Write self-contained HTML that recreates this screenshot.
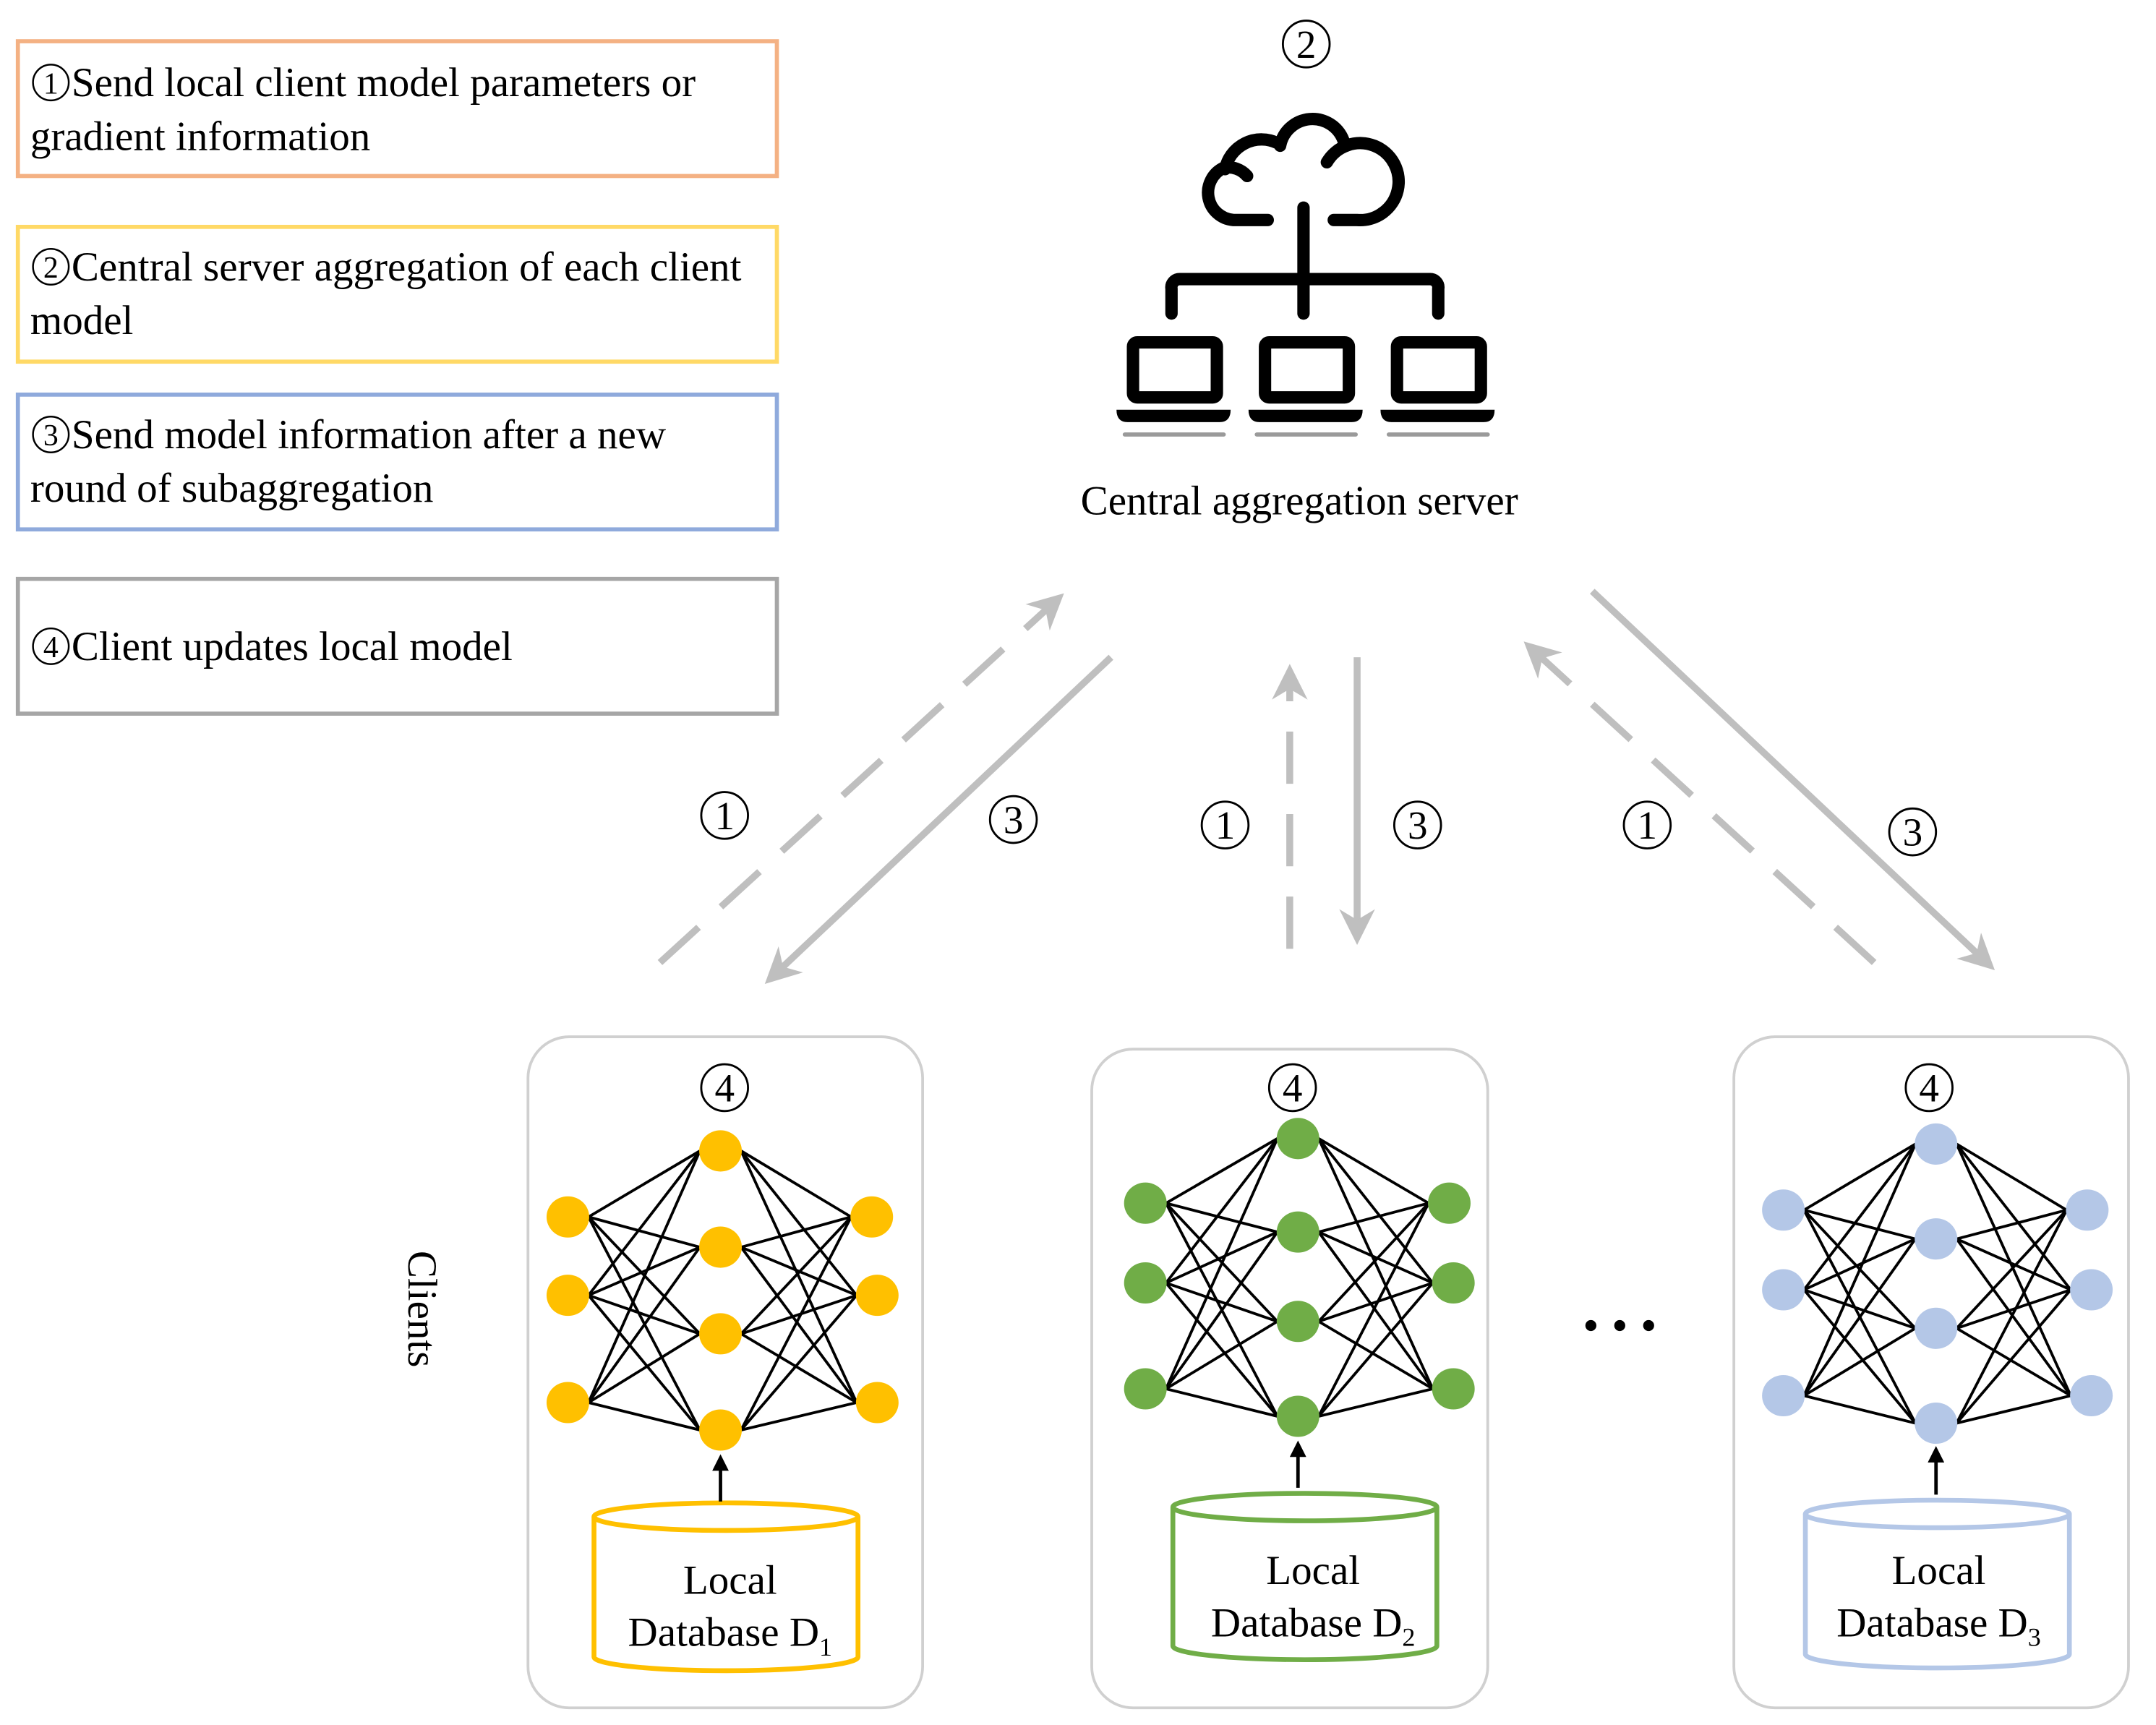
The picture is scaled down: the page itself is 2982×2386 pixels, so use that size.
<!DOCTYPE html>
<html><head><meta charset="utf-8"><style>
html,body{margin:0;padding:0;background:#fff;}
svg{display:block;}
text{font-family:"Liberation Serif",serif;fill:#000;}
</style></head><body>
<svg id="s" width="2982" height="2386" viewBox="0 0 1568 1254.5" preserveAspectRatio="none" xmlns="http://www.w3.org/2000/svg">
<defs>
<marker id="ag" viewBox="0 0 10 10" refX="8" refY="5" markerWidth="26" markerHeight="26" orient="auto" markerUnits="userSpaceOnUse"><path d="M0,0 L10,5 L0,10 L3,5 z" fill="#bfbfbf"/></marker>
<marker id="ab" viewBox="0 0 10 10" refX="8" refY="5" markerWidth="12" markerHeight="12" orient="auto" markerUnits="userSpaceOnUse"><path d="M0,0 L10,5 L0,10 z" fill="#000"/></marker>
</defs>
<!-- legend -->
<rect x="13" y="30" width="552" height="98" fill="none" stroke="#f4b183" stroke-width="3"/>
<circle cx="37" cy="60" r="13" fill="none" stroke="#000" stroke-width="1.3"/><text x="37" y="68" font-size="22" text-anchor="middle">1</text>
<text x="52" y="70" font-size="30">Send local client model parameters or</text>
<text x="22" y="109" font-size="30">gradient information</text>
<rect x="13" y="165" width="552" height="98" fill="none" stroke="#ffd966" stroke-width="3"/>
<circle cx="37" cy="194" r="13" fill="none" stroke="#000" stroke-width="1.3"/><text x="37" y="202" font-size="22" text-anchor="middle">2</text>
<text x="52" y="204" font-size="30">Central server aggregation of each client</text>
<text x="22" y="243" font-size="30">model</text>
<rect x="13" y="287" width="552" height="98" fill="none" stroke="#8faadc" stroke-width="3"/>
<circle cx="37" cy="316" r="13" fill="none" stroke="#000" stroke-width="1.3"/><text x="37" y="324" font-size="22" text-anchor="middle">3</text>
<text x="52" y="326" font-size="30">Send model information after a new</text>
<text x="22" y="365" font-size="30">round of subaggregation</text>
<rect x="13" y="421" width="552" height="98" fill="none" stroke="#a6a6a6" stroke-width="3"/>
<circle cx="37" cy="470" r="13" fill="none" stroke="#000" stroke-width="1.3"/><text x="37" y="478" font-size="22" text-anchor="middle">4</text>
<text x="52" y="480" font-size="30">Client updates local model</text>

<!-- server -->
<g id="circ"></g>
<g fill="none" stroke="#000" stroke-width="9" stroke-linecap="round" stroke-linejoin="round">
<path d="M922,160 H897 A20,20 0 0 1 890,122 A18,18 0 0 1 907,128"/>
<path d="M891,123 A27,27 0 0 1 929,104"/>
<path d="M931,106 A24,24 0 0 1 977,102"/>
<path d="M965,118 A28,28 0 1 1 987,160 H970"/>
<path d="M948,151 V228"/>
<path d="M852,228 V210 A6,6 0 0 1 858,203 H1040 A6,6 0 0 1 1046,210 V228"/>
<rect x="824" y="249" width="61" height="40" rx="3"/>
<rect x="920" y="249" width="61" height="40" rx="3"/>
<rect x="1016" y="249" width="61" height="40" rx="3"/>
</g>
<g fill="#000">
<path d="M812,298 H895 Q895,307 887,307 H820 Q812,307 812,298 z"/>
<path d="M908,298 H991 Q991,307 983,307 H916 Q908,307 908,298 z"/>
<path d="M1004,298 H1087 Q1087,307 1079,307 H1012 Q1004,307 1004,298 z"/>
</g>
<g stroke="#9a9a9a" stroke-width="3" stroke-linecap="round">
<line x1="818" y1="316" x2="890" y2="316"/><line x1="914" y1="316" x2="986" y2="316"/><line x1="1010" y1="316" x2="1082" y2="316"/>
</g>
<text x="945" y="374" font-size="30" text-anchor="middle">Central aggregation server</text>

<!-- arrows -->
<g stroke="#bfbfbf" stroke-width="5" fill="none">
<line x1="480" y1="700" x2="770" y2="435" stroke-dasharray="38,22" marker-end="url(#ag)"/>
<line x1="808" y1="478" x2="560" y2="712" marker-end="url(#ag)"/>
<line x1="938" y1="690" x2="938" y2="488" stroke-dasharray="38,22" marker-end="url(#ag)"/>
<line x1="987" y1="478" x2="987" y2="682" marker-end="url(#ag)"/>
<line x1="1363" y1="700" x2="1112" y2="470" stroke-dasharray="38,22" marker-end="url(#ag)"/>
<line x1="1158" y1="430" x2="1447" y2="702" marker-end="url(#ag)"/>
</g>

<!-- client boxes -->
<g fill="none" stroke="#d0d0d0" stroke-width="2">
<rect x="384" y="754" width="287" height="488" rx="30"/>
<rect x="794" y="763" width="288" height="479" rx="30"/>
<rect x="1261" y="754" width="287" height="488" rx="30"/>
</g>
<g id="nets"></g>

<!-- cylinders -->
<g fill="#fff" stroke-width="3.5">
<path d="M432,1103 V1205 A96,10 0 0 0 624,1205 V1103" stroke="#ffc000"/>
<ellipse cx="528" cy="1103" rx="96" ry="10" stroke="#ffc000"/>
<path d="M853,1096 V1197 A96,10 0 0 0 1045,1197 V1096" stroke="#70ad47"/>
<ellipse cx="949" cy="1096" rx="96" ry="10" stroke="#70ad47"/>
<path d="M1313,1101 V1203 A96,10 0 0 0 1505,1203 V1101" stroke="#b4c7e7"/>
<ellipse cx="1409" cy="1101" rx="96" ry="10" stroke="#b4c7e7"/>
</g>
<g font-size="30" text-anchor="middle">
<text x="531" y="1159">Local</text><text x="531" y="1197">Database D<tspan font-size="19" dy="7">1</tspan></text>
<text x="955" y="1152">Local</text><text x="955" y="1190">Database D<tspan font-size="19" dy="7">2</tspan></text>
<text x="1410" y="1152">Local</text><text x="1410" y="1190">Database D<tspan font-size="19" dy="7">3</tspan></text>
</g>
<g stroke="#000" stroke-width="2.5">
<line x1="524" y1="1092" x2="524" y2="1060" marker-end="url(#ab)"/>
<line x1="944" y1="1082" x2="944" y2="1050" marker-end="url(#ab)"/>
<line x1="1408" y1="1087" x2="1408" y2="1054" marker-end="url(#ab)"/>
</g>
<g fill="#000"><circle cx="1157" cy="964" r="4"/><circle cx="1178" cy="964" r="4"/><circle cx="1199" cy="964" r="4"/></g>
<text x="0" y="0" font-size="30" text-anchor="middle" transform="translate(297,952) rotate(90)">Clients</text>
</svg>
<script>
var c=[[950,32,"2"],[527,593,"1"],[737,596,"3"],[891,600,"1"],[1031,600,"3"],[1198,600,"1"],[1391,605,"3"],[527,791,"4"],[940,791,"4"],[1403,791,"4"]];
var hc="";
c.forEach(function(p){hc+='<circle cx="'+p[0]+'" cy="'+p[1]+'" r="17" fill="none" stroke="#000" stroke-width="1.5"/><text x="'+p[0]+'" y="'+(p[1]+10)+'" font-size="29" text-anchor="middle">'+p[2]+'</text>';});
document.getElementById("circ").innerHTML=hc;
var nets=[
 {c:"#ffc000",L:[[413,885],[413,942],[413,1020]],M:[[524,837],[524,907],[524,970],[524,1040]],R:[[634,885],[638,942],[638,1020]]},
 {c:"#70ad47",L:[[833,875],[833,933],[833,1010]],M:[[944,828],[944,896],[944,961],[944,1030]],R:[[1054,875],[1057,933],[1057,1010]]},
 {c:"#b4c7e7",L:[[1297,880],[1297,938],[1297,1015]],M:[[1408,832],[1408,901],[1408,966],[1408,1035]],R:[[1518,880],[1521,938],[1521,1015]]}
];
var g=document.getElementById("nets"),h="";
nets.forEach(function(n){
 n.L.forEach(function(a){n.M.forEach(function(b){h+='<line x1="'+(a[0]+15)+'" y1="'+a[1]+'" x2="'+(b[0]-15)+'" y2="'+b[1]+'" stroke="#000" stroke-width="2"/>';});});
 n.R.forEach(function(a){n.M.forEach(function(b){h+='<line x1="'+(a[0]-15)+'" y1="'+a[1]+'" x2="'+(b[0]+15)+'" y2="'+b[1]+'" stroke="#000" stroke-width="2"/>';});});
 n.L.concat(n.M,n.R).forEach(function(p){h+='<ellipse cx="'+p[0]+'" cy="'+p[1]+'" rx="15.5" ry="15" fill="'+n.c+'"/>';});
});
g.innerHTML=h;
</script>
</body></html>
